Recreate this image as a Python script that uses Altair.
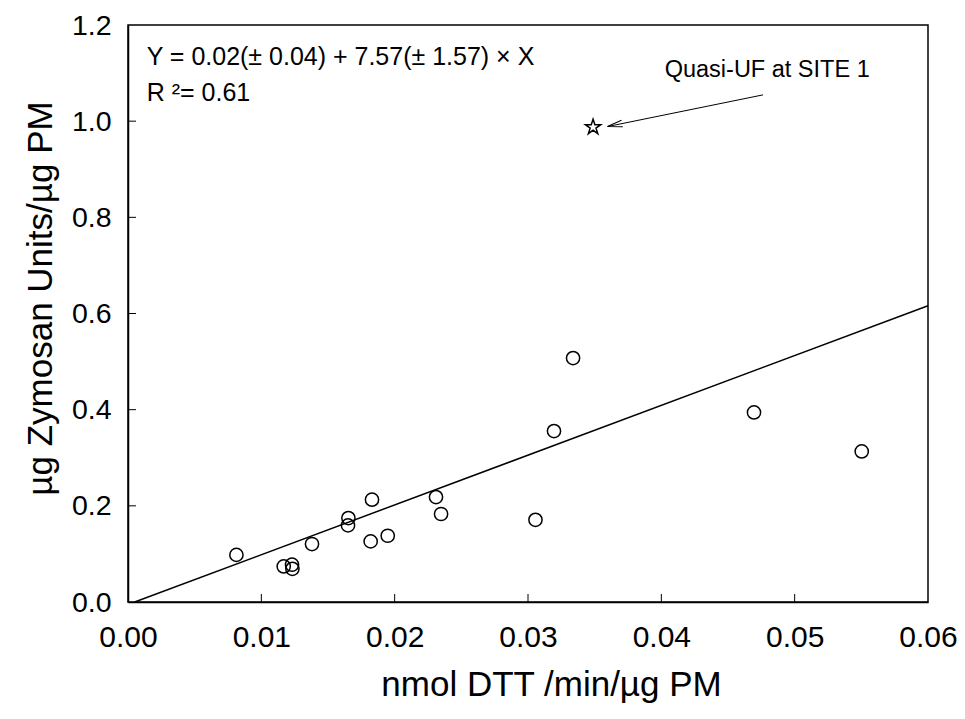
import altair as alt
import pandas as pd

# measured data (nmol DTT/min/µg PM vs µg Zymosan Units/µg PM)
dtt = [0.00813, 0.01168, 0.0123, 0.01233, 0.0138, 0.01653, 0.0165, 0.0183, 0.0182,
       0.01948, 0.0231, 0.02348, 0.03056, 0.03195, 0.03338, 0.04695, 0.05503]
zym = [0.098, 0.074, 0.0775, 0.069, 0.1206, 0.1746, 0.1593, 0.2127, 0.126,
       0.1378, 0.2183, 0.183, 0.171, 0.3555, 0.5073, 0.3942, 0.3131]

# outlier (star)
star_x = [0.03488]
star_y = [0.9875]

# regression line as drawn
fit_x = [0.0005, 0.06]
fit_y = [0.0, 0.616]

# annotation arrow (tail -> tip)
arrow_x = [0.04763, 0.03596]
arrow_y = [1.0547, 0.9888]

x_ticks = [0.01, 0.02, 0.03, 0.04, 0.05]
y_ticks = [0.2, 0.4, 0.6, 0.8, 1.0]
x_labels = [0, 0.01, 0.02, 0.03, 0.04, 0.05, 0.06]
y_labels = [0, 0.2, 0.4, 0.6, 0.8, 1.0, 1.2]

texts = ["Y = 0.02(± 0.04) + 7.57(± 1.57) × X", "R ²= 0.61"]
text_x = [0.0014, 0.0014]
text_y = [1.1175, 1.042]

note = ["Quasi-UF at SITE 1"]
note_x = [0.04025]
note_y = [1.092]

W, H = 800, 577
FONT = "Liberation Sans"

STAR = ("M0,-1L0.2245,-0.309L0.951,-0.309L0.363,0.118L0.588,0.809L0,0.382"
        "L-0.588,0.809L-0.363,0.118L-0.951,-0.309L-0.2245,-0.309Z")

xscale = alt.Scale(domain=[0, 0.06], nice=False, zero=False)
yscale = alt.Scale(domain=[0, 1.2], nice=False, zero=False)

xaxis = alt.Axis(values=x_labels, format=".2f",
                 labelFontSize=30, labelPadding=20, labelColor="black",
                 labelFlush=False, labelOverlap=False,
                 ticks=False, tickSize=0, grid=False,
                 domainColor="black", domainWidth=1.5,
                 title="nmol DTT /min/µg PM", titleFontSize=35,
                 titleFontWeight="normal", titleColor="black",
                 titleX=423, titleY=93, titleBaseline="alphabetic")
yaxis = alt.Axis(values=y_labels, format=".1f",
                 labelFontSize=28.5, labelPadding=17, labelColor="black",
                 labelFlush=False, labelOverlap=False,
                 ticks=False, tickSize=0, grid=False,
                 domainColor="black", domainWidth=1.5,
                 title="µg Zymosan Units/µg PM", titleFontSize=35,
                 titleFontWeight="normal", titleColor="black",
                 titleX=-77, titleY=273, titleBaseline="alphabetic")


def X(f):
    return alt.X(f, scale=xscale, axis=xaxis)


def Y(f):
    return alt.Y(f, scale=yscale, axis=yaxis)


pts = pd.DataFrame({"x": dtt, "y": zym})
base = alt.Chart(pts).mark_point(
    shape="circle", filled=False, size=175, stroke="black", strokeWidth=1.5, opacity=1
).encode(x=X("x:Q"), y=Y("y:Q"))

star = alt.Chart(pd.DataFrame({"x": star_x, "y": star_y})).mark_point(
    shape=STAR, filled=False, size=260, stroke="black", strokeWidth=1.5, opacity=1
).encode(x=X("x:Q"), y=Y("y:Q"))

fit = alt.Chart(pd.DataFrame({"x": fit_x, "y": fit_y})).mark_line(
    color="black", strokeWidth=1.5
).encode(x=X("x:Q"), y=Y("y:Q"))

arrow = alt.Chart(pd.DataFrame({"x": arrow_x, "y": arrow_y})).mark_line(
    color="black", strokeWidth=1
).encode(x=X("x:Q"), y=Y("y:Q"))

head = alt.Chart(pd.DataFrame({"x": arrow_x[1:], "y": arrow_y[1:]})).mark_point(
    shape="M0,0L2,-0.45M0,0L2,0.45", angle=348.5, filled=False, size=225,
    stroke="black", strokeWidth=1, opacity=1
).encode(x=X("x:Q"), y=Y("y:Q"))

xt = alt.Chart(pd.DataFrame({"x": x_ticks})).mark_rule(color="black", strokeWidth=1).encode(
    x=X("x:Q"), y=alt.value(H), y2=alt.value(H - 8))

yt = alt.Chart(pd.DataFrame({"y": y_ticks})).mark_rule(color="black", strokeWidth=1).encode(
    y=Y("y:Q"), x=alt.value(0), x2=alt.value(8))

eq = alt.Chart(pd.DataFrame({"x": text_x, "y": text_y, "label": texts})).mark_text(
    align="left", baseline="alphabetic", fontSize=25, font=FONT, color="black"
).encode(x=X("x:Q"), y=Y("y:Q"), text="label:N")

nt = alt.Chart(pd.DataFrame({"x": note_x, "y": note_y, "label": note})).mark_text(
    align="left", baseline="alphabetic", fontSize=23.5, font=FONT, color="black"
).encode(x=X("x:Q"), y=Y("y:Q"), text="label:N")

chart = alt.layer(base, fit, arrow, head, xt, yt, star, eq, nt).properties(
    width=W, height=H,
    autosize=alt.AutoSizeParams(type="none"),
    padding={"left": 120, "top": 17, "right": 29, "bottom": 109},
).configure(font=FONT).configure_view(
    stroke="black", strokeWidth=1.5
)

chart.save("out.html", embed_options={"renderer": "svg", "actions": False})
